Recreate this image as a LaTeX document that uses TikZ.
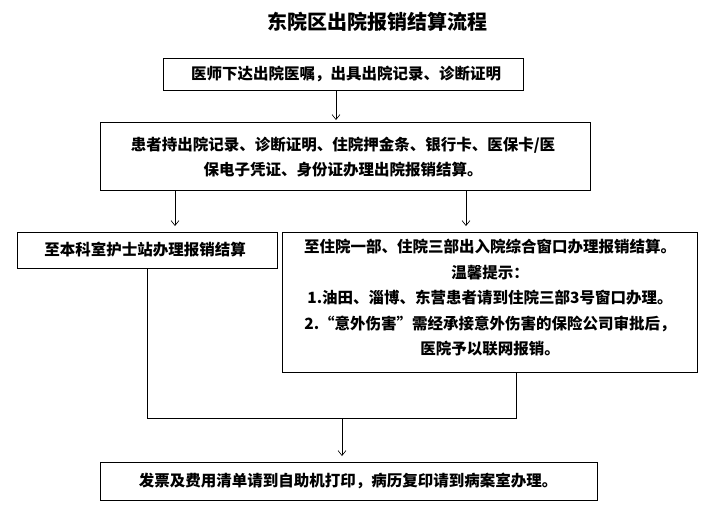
\documentclass[tikz,border=0pt]{standalone}
\usepackage{fontspec}
\setmainfont{Noto Sans CJK SC}
\usetikzlibrary{arrows.meta}
\begin{document}
\begin{tikzpicture}[x=1pt,y=-1pt,
  box/.style={draw,line width=0.8pt,inner sep=0pt},
  txt/.style={font=\fontsize{15.5}{25.5}\selectfont\bfseries,align=center},
  arr/.style={-{Straight Barb[length=5pt,width=8pt]},line width=0.6pt},
  ln/.style={line width=0.6pt}]
\useasboundingbox (0,0) rectangle (715,507);
\node[font=\fontsize{20}{22}\selectfont\bfseries] (title) at (377,22) {东院区出院报销结算流程};
\draw[box] (163,58) rectangle (523,90);
\node[txt] (t1) at (346,74) {医师下达出院医嘱，出具出院记录、诊断证明};
\coordinate (b1) at (336,90);
\draw[box] (100,122) rectangle (590,190);
\node[txt] (t2) at (343,157) {患者持出院记录、诊断证明、住院押金条、银行卡、医保卡/医\\保电子凭证、身份证办理出院报销结算。};
\coordinate (b2t) at (336,120);
\coordinate (b2l) at (175,190);
\coordinate (b2r) at (466,190);
\coordinate (b3t) at (175,226);
\coordinate (b4t) at (466,226);
\draw[box] (17,232) rectangle (277,268);
\node[txt] (t3) at (145,250) {至本科室护士站办理报销结算};
\draw[box] (282,232) rectangle (697,372);
\node[txt,align=center] (t4) at (490,298) {至住院一部、住院三部出入院综合窗口办理报销结算。\\温馨提示：\\1.油田、淄博、东营患者请到住院三部3号窗口办理。\\2.“意外伤害”需经承接意外伤害的保险公司审批后，\\医院予以联网报销。};
\coordinate (b3b) at (147,268);
\coordinate (b4b) at (516,372);
\coordinate (jl) at (147,418);
\coordinate (jr) at (516,418);
\coordinate (jm) at (342,418);
\coordinate (b5t) at (342,456);
\draw[box] (100,462) rectangle (597,500);
\node[txt] (t5) at (348,481) {发票及费用清单请到自助机打印，病历复印请到病案室办理。};
\draw[arr] (b1) -- (b2t);
\draw[arr] (b2l) -- (b3t);
\draw[arr] (b2r) -- (b4t);
\draw[ln] (b3b) -- (jl) -- (jr) -- (b4b);
\draw[arr] (jm) -- (b5t);
\end{tikzpicture}
\end{document}
